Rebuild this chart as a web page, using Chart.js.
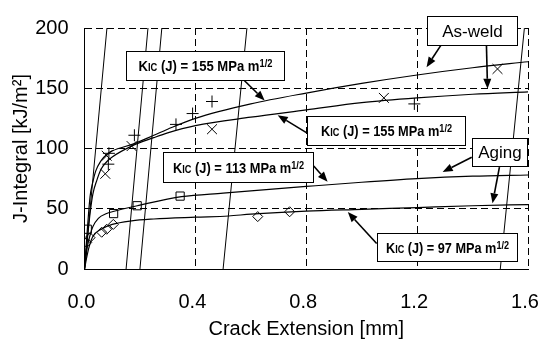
<!DOCTYPE html>
<html>
  <head>
    <title>J-R curves</title>
    <script src="https://cdn.jsdelivr.net/npm/chart.js@4/dist/chart.umd.min.js"></script>
    <style>
      body { margin: 0; background: #fff; }
    </style>
  </head>
  <body>
    <canvas id="canvas" width="540" height="342"></canvas>
    <script>
      // J-R curves, crack extension [mm] vs J [kJ/m2]
      var weldUpperA = [0, 0.01, 0.02, 0.03, 0.04, 0.06, 0.08, 0.1, 0.18, 0.25, 0.3, 0.4, 0.6, 0.8, 1.0, 1.2, 1.4, 1.6];
      var weldUpperJ = [0, 32, 60, 72, 81, 90, 95, 98, 104, 111, 116, 125, 137, 146, 154, 161, 167, 172];
      var weldLowerA = [0, 0.01, 0.02, 0.03, 0.045, 0.06, 0.08, 0.1, 0.17, 0.25, 0.3, 0.4, 0.6, 0.8, 1.0, 1.2, 1.4, 1.6];
      var weldLowerJ = [0, 24, 46, 62, 74, 83, 89, 93, 102, 109, 113, 119, 126, 132, 138, 142, 145, 147];
      var agingUpperA = [0, 0.01, 0.02, 0.03, 0.05, 0.08, 0.1, 0.2, 0.35, 0.5, 0.8, 1.0, 1.2, 1.4, 1.6];
      var agingUpperJ = [0, 18, 28, 35, 42, 46, 47.5, 53, 60, 63, 68.5, 72, 75, 77, 78];
      var agingLowerA = [0, 0.01, 0.02, 0.03, 0.06, 0.1, 0.17, 0.25, 0.4, 0.52, 0.6, 0.8, 1.0, 1.2, 1.4, 1.6];
      var agingLowerJ = [0, 12, 21, 27, 33, 37, 40, 41.5, 43, 44, 45.5, 48, 49.5, 51, 52.5, 53.5];

      // test points
      var plusA = [0.086, 0.088, 0.18, 0.33, 0.39, 0.46, 1.19];
      var plusJ = [87, 96, 111, 120, 129, 139, 137];
      var crossA = [0.075, 0.08, 0.17, 0.46, 1.08, 1.49];
      var crossJ = [79, 94, 102, 116, 142, 166];
      var squareA = [0.01, 0.105, 0.19, 0.345];
      var squareJ = [33, 46, 52.5, 60.5];
      var diamondA = [0.008, 0.02, 0.062, 0.08, 0.104, 0.625, 0.74];
      var diamondJ = [22, 26, 30.5, 33, 37, 43.5, 47.5];

      // blunting / exclusion lines, from J = 0 to J = 200
      var lineStartA = [0, 0.15, 0.2, 0.5, 1.5];
      var lineEndA = [0.081, 0.229, 0.279, 0.586, 1.587];
      var lineJ = [0, 200];

      var xTicks = [0, 0.4, 0.8, 1.2, 1.6];
      var yTicks = [0, 50, 100, 150, 200];

      // annotation boxes [a1, J1, a2, J2], text
      var boxes = [
        { r: [0.15, 180.5, 0.719, 157], k: '155', w: 134 },
        { r: [1.234, 209.8, 1.559, 186.2], t: 'As-weld' },
        { r: [0.802, 126.8, 1.371, 103.3], k: '155', w: 131 },
        { r: [1.397, 108.9, 1.598, 85.4], t: 'Aging' },
        { r: [0.283, 96.7, 0.823, 72.4], k: '113', w: 131 },
        { r: [1.054, 30.1, 1.559, 6.5], k: '97', w: 123 }
      ];
      // arrows [fromA, fromJ, toA, toJ]
      var arrows = [
        [0.571, 157.7, 0.65, 139.8],
        [1.285, 185.4, 1.234, 167.5],
        [1.45, 186.2, 1.454, 149.6],
        [0.802, 113, 0.697, 127.6],
        [1.397, 92.7, 1.292, 80.5],
        [1.497, 84.6, 1.472, 54.5],
        [0.827, 85.4, 0.877, 72.4],
        [1.054, 21.1, 0.95, 47.2]
      ];

      var FONT = '"Liberation Sans", Arial, sans-serif';

      function pts(xs, ys) {
        return xs.map(function (x, i) { return { x: x, y: ys[i] }; });
      }

      function curve(xs, ys) {
        return {
          data: pts(xs, ys),
          showLine: true,
          pointRadius: 0,
          borderColor: '#000',
          borderWidth: 1.2,
          cubicInterpolationMode: 'monotone'
        };
      }

      function marks(xs, ys, style, r) {
        return {
          data: pts(xs, ys),
          showLine: false,
          pointStyle: style,
          pointRadius: r,
          pointBorderColor: '#000',
          pointBackgroundColor: 'rgba(0,0,0,0)',
          pointBorderWidth: 1
        };
      }

      var datasets = [];
      lineStartA.forEach(function (a, i) {
        datasets.push({
          data: pts([a, lineEndA[i]], lineJ),
          showLine: true,
          pointRadius: 0,
          borderColor: '#000',
          borderWidth: 1
        });
      });
      datasets.push(curve(weldUpperA, weldUpperJ));
      datasets.push(curve(weldLowerA, weldLowerJ));
      datasets.push(curve(agingUpperA, agingUpperJ));
      datasets.push(curve(agingLowerA, agingLowerJ));
      datasets.push(marks(plusA, plusJ, 'cross', 6));
      datasets.push(marks(crossA, crossJ, 'crossRot', 7));
      datasets.push(marks(squareA, squareJ, 'rect', 5.8));
      datasets.push(marks(diamondA, diamondJ, 'rectRot', 5));

      function drawArrow(ctx, x1, y1, x2, y2) {
        var ang = Math.atan2(y2 - y1, x2 - x1);
        var hl = 10, hw = 4;
        var bx = x2 - hl * Math.cos(ang), by = y2 - hl * Math.sin(ang);
        ctx.beginPath();
        ctx.moveTo(x1, y1);
        ctx.lineTo(bx, by);
        ctx.lineWidth = 1.6;
        ctx.strokeStyle = '#000';
        ctx.stroke();
        ctx.beginPath();
        ctx.moveTo(x2, y2);
        ctx.lineTo(bx + hw * Math.sin(ang), by - hw * Math.cos(ang));
        ctx.lineTo(bx - hw * Math.sin(ang), by + hw * Math.cos(ang));
        ctx.closePath();
        ctx.fillStyle = '#000';
        ctx.fill();
      }

      // K_IC (J) = ... MPa m^1/2, squeezed to the width in the picture
      function drawK(ctx, cx, cy, val, target) {
        var parts = [
          ['K', 14, 0],
          ['IC', 10, 0],
          [' (J) = ' + val + ' MPa m', 14, 0],
          ['1/2', 10, -4]
        ];
        var w = 0;
        parts.forEach(function (p) {
          ctx.font = 'bold ' + p[1] + 'px ' + FONT;
          p.push(ctx.measureText(p[0]).width);
          w += p[3];
        });
        var k = target / w;
        ctx.save();
        ctx.translate(cx - target / 2, cy + 5);
        ctx.scale(k, 1);
        ctx.textAlign = 'left';
        ctx.textBaseline = 'alphabetic';
        var x = 0;
        parts.forEach(function (p) {
          ctx.font = 'bold ' + p[1] + 'px ' + FONT;
          ctx.fillText(p[0], x, p[2]);
          x += p[3];
        });
        ctx.restore();
      }

      var notes = {
        id: 'notes',
        afterDatasetsDraw: function (chart) {
          var ctx = chart.ctx;
          var sx = chart.scales.x, sy = chart.scales.y;
          ctx.save();
          arrows.forEach(function (a) {
            drawArrow(ctx, sx.getPixelForValue(a[0]), sy.getPixelForValue(a[1]),
              sx.getPixelForValue(a[2]), sy.getPixelForValue(a[3]));
          });
          boxes.forEach(function (b) {
            var x1 = Math.round(sx.getPixelForValue(b.r[0])) + 0.5;
            var y1 = Math.round(sy.getPixelForValue(b.r[1])) + 0.5;
            var x2 = Math.round(sx.getPixelForValue(b.r[2])) + 0.5;
            var y2 = Math.round(sy.getPixelForValue(b.r[3])) + 0.5;
            ctx.fillStyle = '#fff';
            ctx.fillRect(x1, y1, x2 - x1, y2 - y1);
            ctx.lineWidth = 1;
            ctx.strokeStyle = '#000';
            ctx.strokeRect(x1, y1, x2 - x1, y2 - y1);
            ctx.fillStyle = '#000';
            var cx = (x1 + x2) / 2, cy = (y1 + y2) / 2;
            if (b.k) {
              drawK(ctx, cx, cy, b.k, b.w);
            } else {
              ctx.font = '17px ' + FONT;
              ctx.textAlign = 'center';
              ctx.textBaseline = 'middle';
              ctx.fillText(b.t, cx, cy + 1);
            }
          });
          ctx.restore();
        }
      };

      window.onload = function () {
        var ctx = document.getElementById('canvas').getContext('2d');
        window.myChart = new Chart(ctx, {
          type: 'scatter',
          data: { datasets: datasets },
          plugins: [notes],
          options: {
            responsive: false,
            animation: false,
            layout: { padding: { left: 0, right: 12, top: 23, bottom: 0 } },
            plugins: { legend: { display: false }, tooltip: { enabled: false } },
            scales: {
              x: {
                type: 'linear',
                min: 0,
                max: 1.6,
                afterBuildTicks: function (s) {
                  s.ticks = xTicks.map(function (v) { return { value: v }; });
                },
                afterFit: function (s) { s.height = 73; s.paddingRight = 0; },
                ticks: {
                  color: '#000',
                  padding: 21,
                  labelOffset: -3,
                  font: { family: FONT, size: 20 },
                  maxRotation: 0,
                  callback: function (v) { return v.toFixed(1); }
                },
                grid: { color: '#000', lineWidth: 1, drawTicks: false },
                border: { display: true, color: '#000', width: 1, dash: [7, 4] },
                title: {
                  display: true,
                  text: 'Crack Extension [mm]',
                  color: '#000',
                  font: { family: FONT, size: 20 },
                  padding: { top: 0, bottom: 1 }
                }
              },
              y: {
                type: 'linear',
                min: 0,
                max: 200,
                afterBuildTicks: function (s) {
                  s.ticks = yTicks.map(function (v) { return { value: v }; });
                },
                afterFit: function (s) { s.width = 84.5; },
                ticks: {
                  color: '#000',
                  padding: 16,
                  font: { family: FONT, size: 20 }
                },
                grid: { color: '#000', lineWidth: 1, drawTicks: false },
                border: { display: true, color: '#000', width: 1, dash: [7, 4] },
                title: {
                  display: true,
                  text: 'J-Integral [kJ/m²]',
                  color: '#000',
                  font: { family: FONT, size: 20 },
                  padding: { top: 9, bottom: 0 }
                }
              }
            }
          }
        });
      };
    </script>
  </body>
</html>
